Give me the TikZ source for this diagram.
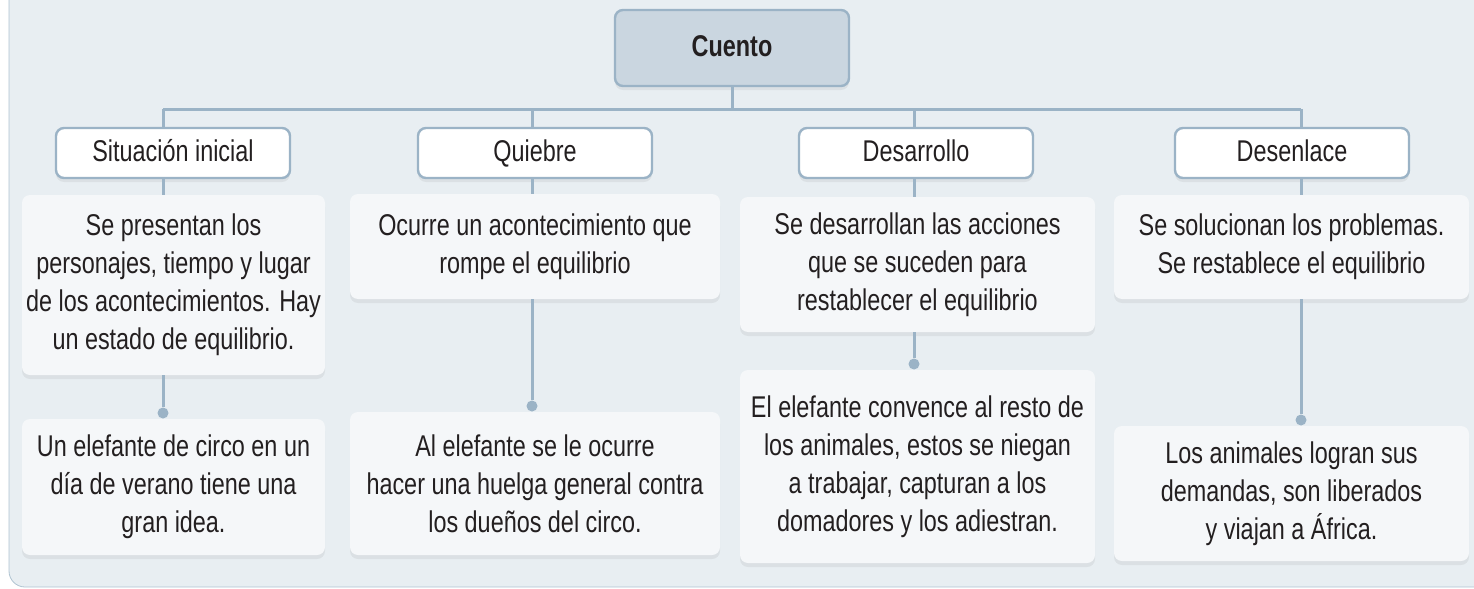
\documentclass[tikz,border=0pt]{standalone}
\usepackage{fontspec}
\setmainfont{Liberation Sans}[FakeStretch=0.78]
\usepackage{tikz}
\usetikzlibrary{shadows}
\definecolor{panelbg}{HTML}{E8EEF2}
\definecolor{panelline}{HTML}{AFC3D1}
\definecolor{rule}{HTML}{9BB3C6}
\definecolor{topfill}{HTML}{CAD6E0}
\definecolor{boxfill}{HTML}{F5F7F9}
\definecolor{ink}{HTML}{231F20}
\tikzset{
    every node/.style={align=center,text=ink,font=\fontsize{15}{19}\selectfont,},
    soft/.style={drop shadow={shadow xshift=0pt,shadow yshift=-2pt,opacity=0.12},},
    topic/.style={draw=rule,line width=1.2pt,fill=topfill,rounded corners=4pt,soft,text height=1em,text depth=0.15em,font=\bfseries\fontsize{15}{19}\selectfont,},
    part/.style={draw=rule,line width=1.2pt,fill=white,rounded corners=4pt,soft,text height=1em,text depth=0.15em,minimum width=117pt,minimum height=25pt,},
    note/.style={fill=boxfill,rounded corners=4pt,soft,inner sep=0pt,},
    link/.style={draw=rule,line width=1.5pt,},
    knob/.style={circle,fill=rule,inner sep=0pt,minimum size=5.5pt,},
}

\begin{document}
\begin{tikzpicture}[x=0.5pt,y=-0.5pt]
                \useasboundingbox (0,0) rectangle (1474,589);
                \fill[panelbg,rounded corners=8pt] (9,-20) rectangle (1500,587);
                \draw[panelline,rounded corners=8pt] (9,-20) -- (9,587) -- (1500,587);

                \node[topic,minimum width=117pt,minimum height=38pt] (cuento) at (732,48) {Cuento};

                \node[part] (sit) at (173,153) {Situación inicial};
                \node[part] (qui) at (535,153) {Quiebre};
                \node[part] (des) at (916,153) {Desarrollo};
                \node[part] (fin) at (1292,153) {Desenlace};

                \node[note,minimum width=151.5pt,minimum height=90pt] (sit_text) at (173.5,285) {Se presentan los\\personajes, tiempo y lugar\\de los acontecimientos. Hay\\un estado de equilibrio.};
                \node[note,minimum width=185pt,minimum height=52.5pt] (qui_text) at (535,246.5) {Ocurre un acontecimiento que\\rompe el equilibrio};
                \node[note,minimum width=177.5pt,minimum height=67.5pt] (des_text) at (917.5,264.5) {Se desarrollan las acciones\\que se suceden para\\restablecer el equilibrio};
                \node[note,minimum width=177.5pt,minimum height=52pt] (fin_text) at (1291.5,247) {Se solucionan los problemas.\\Se restablece el equilibrio};

                \node[note,minimum width=151.5pt,minimum height=68pt] (sit_case) at (173.5,487) {Un elefante de circo en un\\día de verano tiene una\\gran idea.};
                \node[note,minimum width=185pt,minimum height=71.5pt] (qui_case) at (535,483.5) {Al elefante se le ocurre\\hacer una huelga general contra\\los dueños del circo.};
                \node[note,minimum width=177.5pt,minimum height=96.5pt] (des_case) at (917.5,466.5) {El elefante convence al resto de\\los animales, estos se niegan\\a trabajar, capturan a los\\domadores y los adiestran.};
                \node[note,minimum width=177.5pt,minimum height=67.5pt] (fin_case) at (1291.5,493.5) {Los animales logran sus\\demandas, son liberados\\y viajan a África.};

                \coordinate (sit_top) at (163,109);
                \coordinate (qui_top) at (532,109);
                \coordinate (des_top) at (914,109);
                \coordinate (fin_top) at (1301,109);

                \node[knob] (sit_dot) at (163,413) {};
                \node[knob] (qui_dot) at (532,406) {};
                \node[knob] (des_dot) at (914,364) {};
                \node[knob] (fin_dot) at (1301,420) {};

                \draw[link] (cuento.south) -- (cuento.south |- sit_top);
                \draw[link] (sit_top) -- (fin_top);
                \foreach \col in {sit,qui,des,fin} {
                    \draw[link] (\col_top) -- (\col_top |- \col.north)
                        (\col_top |- \col.south) -- (\col_top |- \col_text.north)
                        (\col_top |- \col_text.south) -- (\col_dot);
                }
            \end{tikzpicture}
\end{document}
